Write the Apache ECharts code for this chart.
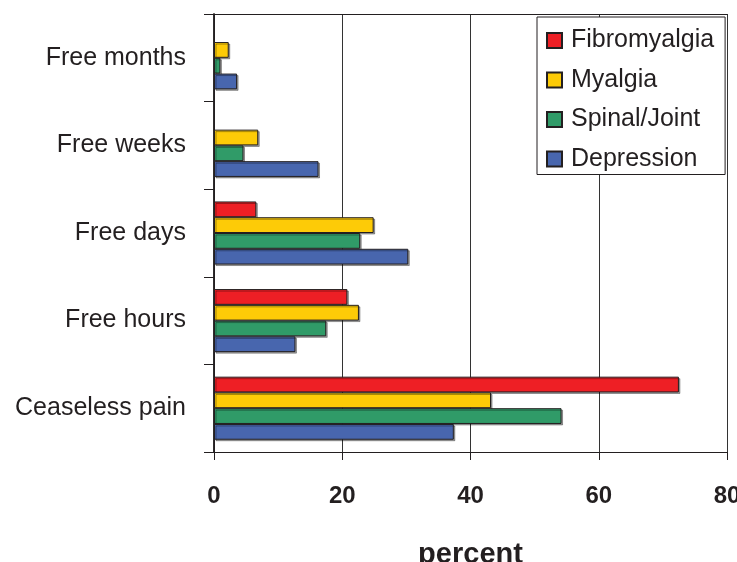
<!DOCTYPE html>
<html>
<head>
<meta charset="utf-8">
<script src="https://cdn.jsdelivr.net/npm/echarts@6/dist/echarts.min.js"></script>
<style>
  html, body { margin: 0; padding: 0; background: #fff; }
  #chart { width: 737px; height: 562px; }
</style>
</head>
<body>
<div id="chart"></div>
<script>
// categories bottom to top
const categories = ['Ceaseless pain', 'Free hours', 'Free days', 'Free weeks', 'Free months'];
const fibromyalgia = [72.5, 20.8, 6.6, null, null];
const myalgia = [43.2, 22.6, 24.9, 6.9, 2.3];
const spinalJoint = [54.2, 17.5, 22.8, 4.6, 1.0];
const depression = [37.4, 12.7, 30.3, 16.3, 3.6];
const xTicks = [0, 20, 40, 60, 80];

const ink = '#231f20';
const font = '"Liberation Sans", Arial, sans-serif';

function barSeries(name, data, color) {
  return {
    name: name,
    type: 'bar',
    data: data,
    barGap: 0,
    barCategoryGap: '28%',
    itemStyle: {
      color: color,
      borderColor: ink,
      borderWidth: 1,
      shadowColor: 'rgba(0,0,0,0.35)',
      shadowOffsetX: 1.5,
      shadowOffsetY: 1.5
    },
    emphasis: { disabled: true }
  };
}

const chart = echarts.init(document.getElementById('chart'));
chart.setOption({
  animation: false,
  backgroundColor: '#fff',
  textStyle: { fontFamily: font, color: ink },
  grid: { left: 214, right: 10, top: 14, bottom: 110, outerBoundsMode: 'none', containLabel: false },
  legend: {
    orient: 'vertical',
    left: 537,
    top: 17,
    data: ['Fibromyalgia', 'Myalgia', 'Spinal/Joint', 'Depression'],
    icon: 'rect',
    itemWidth: 15,
    itemHeight: 15,
    itemGap: 14.5,
    padding: [11, 11, 3, 9],
    backgroundColor: '#fff',
    borderColor: ink,
    borderWidth: 1,
    textStyle: { fontSize: 25, color: ink, fontFamily: font, padding: [0, 0, 0, 4] }
  },
  xAxis: [{
    type: 'value',
    min: xTicks[0],
    max: xTicks[xTicks.length - 1],
    interval: 20,
    name: 'percent',
    nameLocation: 'middle',
    nameGap: 88,
    nameTextStyle: { fontSize: 29, fontWeight: 'bold', color: ink, fontFamily: font },
    axisLine: { show: true, lineStyle: { color: ink, width: 1 } },
    axisTick: { show: true, length: 8, lineStyle: { color: ink } },
    axisLabel: { fontSize: 24, fontWeight: 'bold', color: ink, margin: 32, fontFamily: font },
    splitLine: { show: true, lineStyle: { color: '#333', width: 1 } }
  }, {
    type: 'value',
    position: 'top',
    min: 0,
    max: 80,
    axisLine: { show: true, lineStyle: { color: ink, width: 1 } },
    axisTick: { show: false },
    axisLabel: { show: false },
    splitLine: { show: false }
  }],
  yAxis: [{
    type: 'category',
    data: categories,
    axisLine: { show: true, lineStyle: { color: ink, width: 1.5 } },
    axisTick: { show: true, length: 10, lineStyle: { color: ink } },
    axisLabel: { fontSize: 25, color: ink, margin: 28, fontFamily: font, padding: [10, 0, 0, 0] },
    splitLine: { show: false }
  }, {
    type: 'category',
    position: 'right',
    data: categories,
    axisLine: { show: true, lineStyle: { color: ink, width: 1.5 } },
    axisTick: { show: false },
    axisLabel: { show: false },
    splitLine: { show: false }
  }],
  series: [
    barSeries('Fibromyalgia', fibromyalgia, '#ee1f25'),
    barSeries('Myalgia', myalgia, '#fdcb07'),
    barSeries('Spinal/Joint', spinalJoint, '#309b68'),
    barSeries('Depression', depression, '#4866ae')
  ]
});
</script>
</body>
</html>
